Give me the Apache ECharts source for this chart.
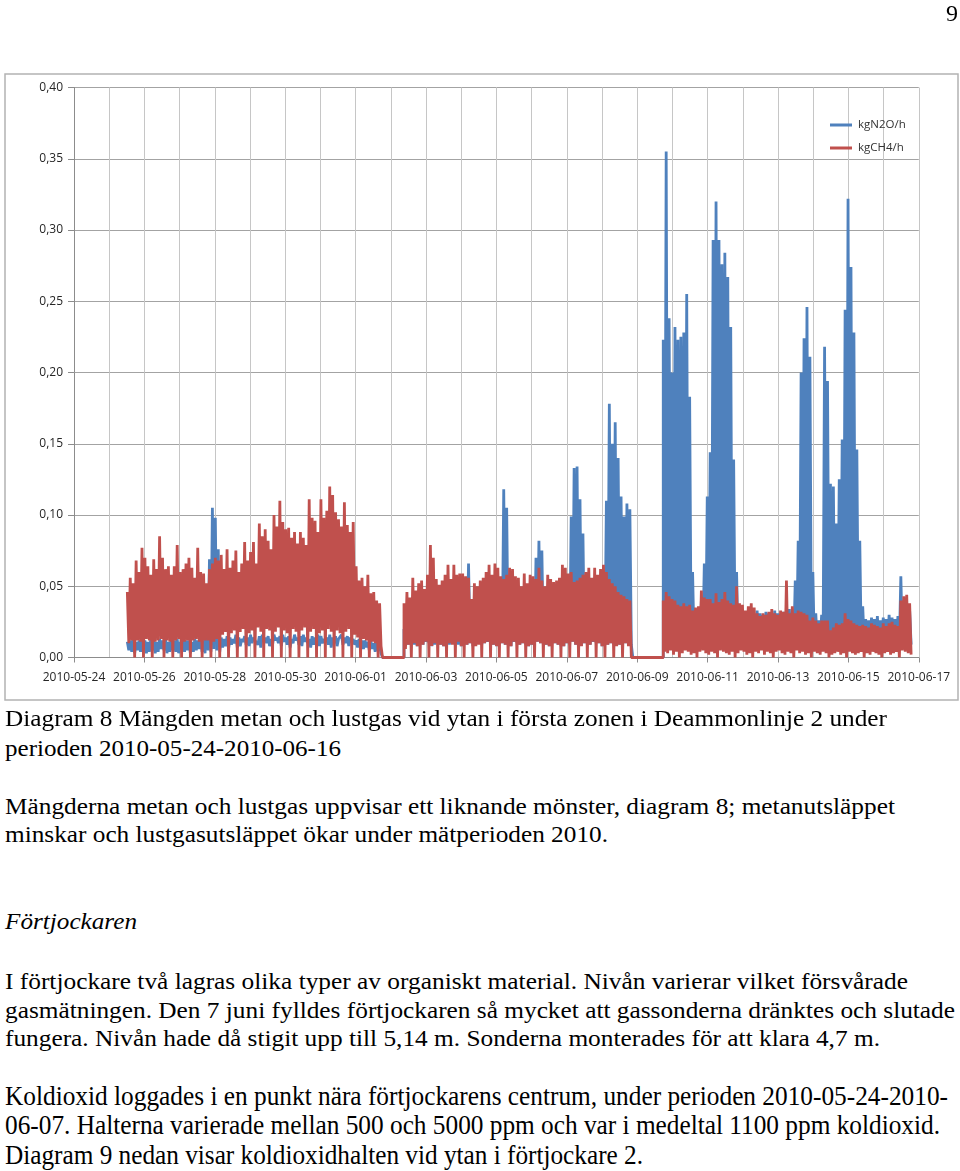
<!DOCTYPE html>
<html><head><meta charset="utf-8">
<script src="https://cdn.jsdelivr.net/npm/echarts@6/dist/echarts.min.js"></script>
<style>
html,body{margin:0;padding:0;background:#fff;width:960px;height:1171px;overflow:hidden;position:relative}
#chart{position:absolute;left:0;top:0;width:960px;height:710px}
.ln{position:absolute;left:5px;white-space:nowrap;font-family:'Liberation Serif','Times New Roman',serif;color:#000;transform-origin:0 50%}
#pg{position:absolute;left:946px;top:0px;font-family:'Liberation Serif',serif;font-size:24px;line-height:26px;z-index:5}
</style></head><body>
<div id="chart"></div>
<div id="pg">9</div>
<script>
// ---- data (values in thousandths of kg/h; 2-hour blocks: hi = block peak, lo = block trough) ----
const xTickLabels = ['2010-05-24','2010-05-26','2010-05-28','2010-05-30','2010-06-01','2010-06-03','2010-06-05','2010-06-07','2010-06-09','2010-06-11','2010-06-13','2010-06-15','2010-06-17'];
const segStartDays = [1.515, 9.375, 16.74]; // days after 2010-05-24 00:00
const seriesNames = ['kgN2O/h','kgCH4/h'];

const ch4Hi1 = [46,56,52,68,60,77,70,64,58,69,62,85,70,62,64,58,64,79,60,62,66,70,63,56,77,60,59,52,62,66,70,68,72,62,76,63,68,75,60,66,81,68,74,81,66,94,85,90,82,76,100,92,110,95,90,91,84,88,80,88,84,79,111,98,96,88,111,98,103,120,114,102,97,92,109,93,88,95,64,54,56,50,58,45,46,40,38];
const ch4Lo1 = [10,12,0,12,11,0,13,12,0,11,12,13,0,12,11,0,12,13,0,11,12,0,12,13,11,0,12,12,0,11,13,0,16,18,0,17,19,0,18,20,0,17,19,0,21,18,0,20,19,0,18,21,0,19,17,0,20,18,0,19,21,0,18,20,0,17,19,0,20,18,0,19,17,0,18,20,0,16,14,0,13,12,0,11,10,0,8];
const n2oHi1 = [11,12,13,11,12,13,12,11,13,12,11,13,12,13,11,12,12,13,11,13,12,12,11,13,12,13,12,50,69,105,98,76,14,13,15,14,13,16,14,13,15,14,16,14,13,15,16,14,15,13,16,14,15,16,14,15,13,16,14,15,16,14,13,15,14,16,15,13,14,16,14,15,13,16,14,15,14,13,12,13,12,12,11,12,10,11,9];
const n2oLo1 = [5,4,3,5,4,6,3,4,5,3,4,6,5,3,4,5,4,3,6,4,5,3,4,5,6,4,3,5,4,6,5,4,7,8,6,9,10,7,8,11,9,8,10,12,9,7,11,10,8,9,12,10,8,11,9,7,10,12,9,8,11,10,7,9,12,8,10,11,9,7,10,8,12,9,10,8,11,9,7,8,6,7,5,6,4,5,3];

const ch4Hi2 = [38,46,42,56,47,52,54,48,58,79,70,55,51,54,58,65,55,65,58,59,59,57,56,41,52,50,54,56,60,65,58,66,63,57,55,58,63,62,57,56,50,59,52,58,57,55,63,54,50,58,55,53,54,56,65,63,59,60,53,54,56,58,60,63,56,63,58,62,65,60,55,52,50,46,44,43,41,40];
const ch4Lo2 = [6,9,0,10,8,0,9,11,0,8,10,0,9,8,0,10,9,0,11,8,0,9,10,0,8,9,0,10,11,0,9,8,0,10,9,0,8,11,0,9,10,0,8,9,0,11,10,0,9,8,0,10,9,0,8,10,0,11,9,0,8,10,0,9,11,0,10,8,0,9,10,0,8,9,0,10,8,0];
const n2oHi2 = [20,25,27,24,28,26,29,25,27,30,28,26,29,27,25,30,28,26,29,27,30,28,66,25,29,27,30,28,26,31,29,27,30,28,118,105,32,29,31,28,30,27,32,29,35,70,82,75,33,30,28,31,29,32,30,33,40,99,133,134,111,87,36,31,34,30,33,35,45,110,178,150,165,140,113,99,108,104];
const n2oLo2 = [8,9,10,9,8,10,9,11,10,8,9,10,9,8,10,9,10,11,9,8,10,9,10,8,9,10,9,10,11,9,9,8,10,10,9,9,8,11,10,9,10,9,8,9,10,11,10,9,9,8,10,10,9,8,8,10,9,11,9,10,8,10,9,9,11,10,10,8,9,9,10,9,8,9,10,10,8,9];

const ch4Hi3 = [40,46,43,41,40,37,36,38,36,37,33,35,36,47,42,41,41,38,45,39,41,46,40,38,37,50,38,37,33,36,38,35,31,29,31,30,32,34,31,30,33,32,54,31,36,31,33,32,31,30,26,28,26,24,26,26,26,19,21,24,23,24,31,27,26,24,23,22,23,22,21,24,23,22,21,24,22,24,25,23,22,40,43,44,38];
const ch4Lo3 = [4,3,5,2,4,0,3,5,4,2,3,0,4,5,3,2,4,3,0,5,4,3,2,4,0,3,5,4,2,3,0,4,3,5,2,4,3,0,4,5,3,2,4,3,0,5,3,4,2,3,0,4,3,2,4,3,0,2,3,4,2,3,0,4,3,2,3,4,0,3,2,4,3,2,0,3,4,2,3,4,0,5,4,3,2];
const n2oHi3 = [223,355,238,200,232,223,225,228,255,183,60,33,34,40,66,113,144,293,320,293,276,284,267,232,139,60,30,30,31,29,32,30,33,31,30,32,31,30,33,31,30,32,31,34,30,54,82,200,224,246,211,60,31,26,30,218,194,122,120,94,125,153,244,322,274,228,146,82,36,27,26,28,27,29,26,28,27,30,28,27,29,57,40,34,33];
const n2oLo3 = [12,10,11,9,12,10,11,10,9,12,11,10,9,11,10,12,10,11,9,10,12,11,10,9,11,10,12,10,11,9,10,12,11,10,9,11,10,12,10,11,9,10,12,11,10,9,11,10,12,10,11,9,10,12,11,10,9,11,10,12,10,11,9,10,12,11,10,9,11,10,12,10,11,9,10,12,11,10,9,11,10,12,10,11,9];

// ---- build line data: peak at block start, trough one hour later; zero readings across the gaps ----
function build(his, los) {
  const out = [];
  const step = 1 / 12, half = 1 / 24;
  for (let s = 0; s < his.length; s++) {
    const st = segStartDays[s];
    if (s > 0) out.push([st, 0]);
    for (let i = 0; i < his[s].length; i++) {
      out.push([st + i * step, his[s][i] / 1000]);
      out.push([st + i * step + half, los[s][i] / 1000]);
    }
    if (s < his.length - 1) out.push([st + his[s].length * step, 0]);
  }
  return out;
}
const n2oData = build([n2oHi1, n2oHi2, n2oHi3], [n2oLo1, n2oLo2, n2oLo3]);
const ch4Data = build([ch4Hi1, ch4Hi2, ch4Hi3], [ch4Lo1, ch4Lo2, ch4Lo3]);

const chart = echarts.init(document.getElementById('chart'), null, {renderer: 'canvas'});
const lblFont = "'Open Sans', 'Liberation Sans', sans-serif";
chart.setOption({
  animation: false,
  backgroundColor: '#ffffff',
  graphic: [{type: 'rect', shape: {x: 5, y: 74, width: 953, height: 626}, style: {fill: 'none', stroke: '#b3b3b3', lineWidth: 1.5}, silent: true, z: -1}],
  grid: {left: 74, right: 41.2, top: 87.5, bottom: 52.5, containLabel: false},
  legend: {
    data: seriesNames, orient: 'vertical', left: 830, top: 119, itemGap: 11, padding: 0,
    itemWidth: 22, itemHeight: 3, icon: 'rect',
    textStyle: {fontFamily: lblFont, fontSize: 11.5, color: '#333', padding: [0, 0, 0, 1]}
  },
  xAxis: {
    type: 'value', min: 0, max: 24, interval: 2,
    axisLine: {show: true, lineStyle: {color: '#8c8c8c', width: 1}},
    axisTick: {show: true, length: 5, lineStyle: {color: '#8c8c8c'}},
    minorTick: {show: false, splitNumber: 2},
    splitLine: {show: true, lineStyle: {color: '#c6c6c6', width: 1}},
    minorSplitLine: {show: true, lineStyle: {color: '#c6c6c6', width: 1}},
    axisLabel: {margin: 14, fontFamily: lblFont, fontSize: 12, color: '#262626',
      formatter: v => xTickLabels[Math.round(v / 2)] || ''}
  },
  yAxis: {
    type: 'value', min: 0, max: 0.4, interval: 0.05,
    axisLine: {show: true, lineStyle: {color: '#8c8c8c', width: 1}},
    axisTick: {show: true, length: 6, lineStyle: {color: '#8c8c8c'}},
    splitLine: {show: true, lineStyle: {color: '#a3a3a3', width: 1}},
    axisLabel: {margin: 11, fontFamily: lblFont, fontSize: 12, color: '#262626',
      formatter: v => v.toFixed(2).replace('.', ',')}
  },
  series: [
    {name: seriesNames[0], type: 'line', data: n2oData, showSymbol: false, symbol: 'none',
      lineStyle: {color: '#4f81bd', width: 2.8, join: 'bevel'}, itemStyle: {color: '#4f81bd'}, z: 2},
    {name: seriesNames[1], type: 'line', data: ch4Data, showSymbol: false, symbol: 'none',
      lineStyle: {color: '#c0504d', width: 2.8, join: 'bevel'}, itemStyle: {color: '#c0504d'}, z: 3}
  ]
});

// ---- page text below the chart ----
const bodyLines = [
  'Diagram 8 Mängden metan och lustgas vid ytan i första zonen i Deammonlinje 2 under',
  'perioden 2010-05-24-2010-06-16',
  'Mängderna metan och lustgas uppvisar ett liknande mönster, diagram 8; metanutsläppet',
  'minskar och lustgasutsläppet ökar under mätperioden 2010.',
  'Förtjockaren',
  'I förtjockare två lagras olika typer av organiskt material. Nivån varierar vilket försvårade',
  'gasmätningen. Den 7 juni fylldes förtjockaren så mycket att gassonderna dränktes och slutade',
  'fungera. Nivån hade då stigit upp till 5,14 m. Sonderna monterades för att klara 4,7 m.',
  'Koldioxid loggades i en punkt nära förtjockarens centrum, under perioden 2010-05-24-2010-',
  '06-07. Halterna varierade mellan 500 och 5000 ppm och var i medeltal 1100 ppm koldioxid.',
  'Diagram 9 nedan visar koldioxidhalten vid ytan i förtjockare 2.'
];
// layout: [centerY, width, fontSize, italic]
const bodyLayout = [
  [718, 882, 24, 0], [748, 336, 24, 0], [806, 890, 24, 0], [834, 603, 24, 0],
  [921, 132, 24, 1],
  [981, 903, 24, 0], [1010, 950, 24, 0], [1038, 875, 24, 0],
  [1096, 943, 27, 0], [1125, 935, 27, 0], [1155, 638, 27, 0]
];
bodyLines.forEach((t, i) => {
  const [cy, w, fs, it] = bodyLayout[i];
  const d = document.createElement('div');
  d.className = 'ln';
  d.textContent = t;
  d.style.fontSize = fs + 'px';
  d.style.lineHeight = fs + 'px';
  d.style.top = (cy - fs / 2) + 'px';
  if (it) d.style.fontStyle = 'italic';
  document.body.appendChild(d);
  const mw = d.getBoundingClientRect().width;
  d.style.transform = 'scaleX(' + (w / mw).toFixed(4) + ')';
});
</script>
</body></html>
